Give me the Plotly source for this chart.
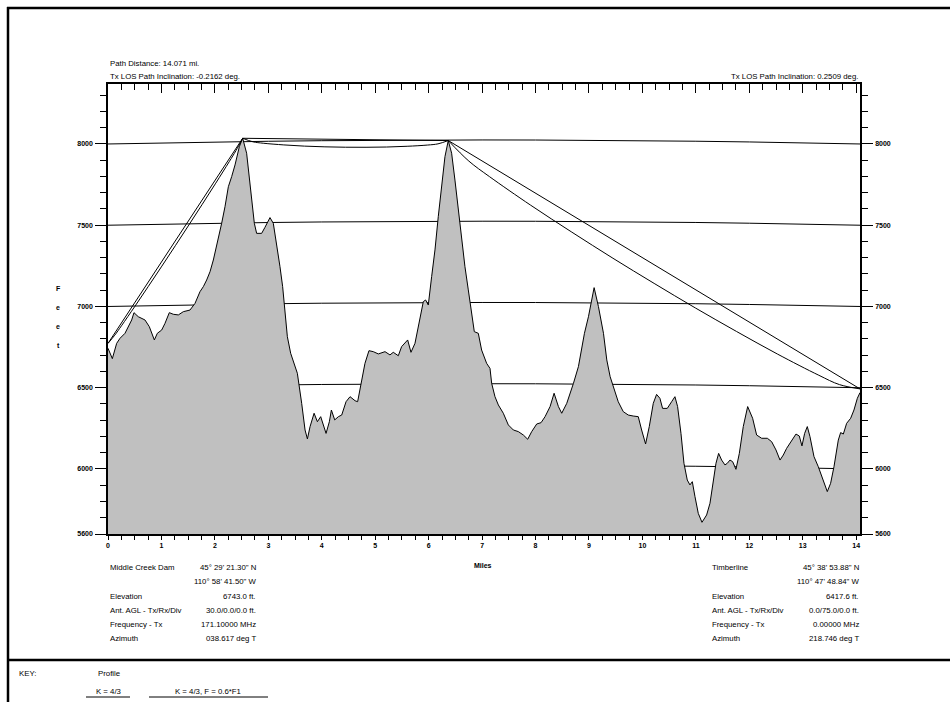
import plotly.graph_objects as go

# ---- path profile data -------------------------------------------------
TERRAIN_MI = [
    0.000, 0.081, 0.162, 0.224, 0.318, 0.380, 0.443, 0.486, 0.567, 0.692,
    0.773, 0.867, 0.923, 1.004, 1.066, 1.147, 1.222, 1.316, 1.409, 1.534,
    1.628, 1.721, 1.784, 1.846, 1.909, 1.971, 2.046, 2.127, 2.189, 2.252,
    2.314, 2.377, 2.458, 2.520, 2.594, 2.669, 2.738, 2.781, 2.875, 2.937,
    3.031, 3.093, 3.156, 3.218, 3.268, 3.312, 3.356, 3.418, 3.499, 3.543,
    3.624, 3.687, 3.731, 3.781, 3.856, 3.918, 3.980, 4.080, 4.142, 4.180,
    4.242, 4.311, 4.373, 4.454, 4.529, 4.623, 4.671, 4.746, 4.808, 4.883,
    4.964, 5.058, 5.183, 5.276, 5.338, 5.432, 5.494, 5.607, 5.669, 5.744,
    5.837, 5.900, 5.943, 5.993, 6.056, 6.118, 6.180, 6.243, 6.305, 6.367,
    6.430, 6.492, 6.555, 6.617, 6.679, 6.742, 6.804, 6.854, 6.929, 6.991,
    7.085, 7.148, 7.179, 7.241, 7.304, 7.397, 7.491, 7.585, 7.678, 7.772,
    7.853, 7.928, 8.022, 8.103, 8.178, 8.272, 8.347, 8.428, 8.490, 8.584,
    8.709, 8.802, 8.915, 8.990, 9.096, 9.177, 9.271, 9.333, 9.396, 9.454,
    9.547, 9.641, 9.735, 9.828, 9.922, 9.985, 10.059, 10.128, 10.203, 10.265,
    10.327, 10.377, 10.465, 10.546, 10.608, 10.658, 10.721, 10.777, 10.839, 10.889,
    10.933, 10.983, 11.045, 11.114, 11.201, 11.264, 11.326, 11.376, 11.426, 11.482,
    11.544, 11.588, 11.638, 11.688, 11.750, 11.813, 11.887, 11.969, 12.062, 12.137,
    12.231, 12.337, 12.418, 12.499, 12.574, 12.636, 12.698, 12.792, 12.873, 12.935,
    12.985, 13.035, 13.085, 13.135, 13.210, 13.291, 13.384, 13.459, 13.521, 13.584,
    13.665, 13.709, 13.759, 13.821, 13.896, 13.958, 14.021, 14.071,
]
TERRAIN_FT = [
    6743, 6679, 6773, 6804, 6835, 6876, 6917, 6962, 6937, 6917,
    6876, 6794, 6835, 6855, 6896, 6962, 6952, 6948, 6968, 6978,
    7019, 7091, 7122, 7163, 7214, 7286, 7389, 7512, 7614, 7737,
    7799, 7871, 7984, 8035, 7943, 7737, 7512, 7450, 7450, 7487,
    7547, 7512, 7389, 7245, 7122, 6958, 6814, 6712, 6630, 6589,
    6404, 6240, 6185, 6261, 6343, 6291, 6322, 6219, 6291, 6363,
    6302, 6322, 6332, 6414, 6445, 6420, 6414, 6548, 6650, 6728,
    6722, 6708, 6722, 6702, 6718, 6697, 6753, 6794, 6718, 6773,
    6917, 7030, 7040, 7009, 7184, 7348, 7553, 7737, 7922, 8021,
    7943, 7778, 7594, 7409, 7245, 7102, 6958, 6845, 6835, 6732,
    6650, 6619, 6527, 6445, 6394, 6343, 6271, 6240, 6230, 6209,
    6183, 6230, 6277, 6285, 6322, 6384, 6466, 6384, 6343, 6404,
    6527, 6630, 6835, 6937, 7116, 6999, 6835, 6671, 6568, 6507,
    6414, 6353, 6332, 6326, 6322, 6240, 6154, 6261, 6404, 6459,
    6435, 6373, 6373, 6414, 6445, 6384, 6219, 6035, 5932, 5902,
    5922, 5830, 5727, 5672, 5717, 5789, 5932, 6035, 6096, 6055,
    6025, 6035, 6055, 6045, 5998, 6096, 6261, 6384, 6312, 6209,
    6189, 6189, 6168, 6117, 6055, 6086, 6127, 6178, 6215, 6203,
    6142, 6219, 6261, 6199, 6076, 6014, 5922, 5861, 5912, 6014,
    6178, 6224, 6215, 6281, 6312, 6363, 6435, 6470,
]

# curved-earth reference levels (K = 4/3) and their bulge along the path
GRID_LEVELS = [6000, 6500, 7000, 7500, 8000]
BULGE_MI = [0, 1, 2, 3, 4, 5, 6, 7, 8, 9, 10, 11, 12, 13, 14.071]
BULGE_FT = [0, 6.5, 12.1, 16.6, 20.1, 22.7, 24.2, 24.7, 24.3, 22.8, 20.4, 16.9, 12.4, 7.0, 0]

# LOS path vertices: Tx, first ridge, second ridge, Rx
LOS_MI = [0.0, 2.520, 6.367, 14.071]
LOS_FT = [6773, 8035, 8021, 6493]

# clearance (F = 0.6*F1) sag below each LOS leg, at fractional positions
LENS_T = [0, 0.05, 0.1, 0.2, 0.3, 0.4, 0.5, 0.6, 0.7, 0.8, 0.9, 0.95, 1]
LENS_SAG_FT = [
    [0, 13, 18, 24, 27.5, 29.4, 30, 29.4, 27.5, 24, 18, 13, 0],
    [0, 21, 29, 38, 44, 47, 48, 47, 44, 38, 29, 21, 0],
    [0, 50, 69, 92, 105, 113, 115, 113, 105, 92, 69, 50, 0],
]

PATH_MILES = 14.071
Y_RANGE = [5600, 8369]
Y_TICKS = [5600, 6000, 6500, 7000, 7500, 8000]

SITE_ROWS = ["Elevation", "Ant. AGL - Tx/Rx/Div", "Frequency - Tx", "Azimuth"]
TX_SITE = ["Middle Creek Dam", "45° 29' 21.30\" N", "110° 58' 41.50\" W",
           "6743.0 ft.", "30.0/0.0/0.0 ft.", "171.10000 MHz", "038.617 deg T"]
RX_SITE = ["Timberline", "45° 38' 53.88\" N", "110° 47' 48.84\" W",
           "6417.6 ft.", "0.0/75.0/0.0 ft.", "0.00000 MHz", "218.746 deg T"]

# ---- page geometry (pixels) --------------------------------------------
W, H = 950, 702
PL, PR, PT, PB = 108, 860, 84, 534

def px(x):
    return (x - PL) / (PR - PL)

def py(y):
    return (PB - y) / (PB - PT)

TEXT_FONT = dict(family="Liberation Sans, Arial, sans-serif", size=7.8, color="black")
BOLD_FONT = dict(family="Liberation Sans, Arial, sans-serif", size=7, color="black", weight="bold")

fig = go.Figure()

# reference elevation lines (drawn first so the terrain hides them)
for lvl in GRID_LEVELS:
    fig.add_trace(go.Scatter(
        x=BULGE_MI, y=[lvl + b for b in BULGE_FT],
        mode="lines", line=dict(color="black", width=1), hoverinfo="skip"))

# terrain profile
fig.add_trace(go.Scatter(
    x=TERRAIN_MI, y=TERRAIN_FT, mode="lines", fill="tozeroy",
    fillcolor="#c0c0c0", line=dict(color="black", width=1), hoverinfo="skip"))

# LOS legs and clearance lens for each leg
for i in range(3):
    x0, x1 = LOS_MI[i], LOS_MI[i + 1]
    y0, y1 = LOS_FT[i], LOS_FT[i + 1]
    fig.add_trace(go.Scatter(x=[x0, x1], y=[y0, y1], mode="lines",
                             line=dict(color="black", width=1), hoverinfo="skip"))
    lx = [x0 + t * (x1 - x0) for t in LENS_T]
    ly = [y0 + t * (y1 - y0) - s for t, s in zip(LENS_T, LENS_SAG_FT[i])]
    fig.add_trace(go.Scatter(x=lx, y=ly, mode="lines", line_shape="spline",
                             line=dict(color="black", width=1), hoverinfo="skip"))

# anchor trace for the mirrored top/right axes
fig.add_trace(go.Scatter(x=[0], y=[Y_RANGE[0]], xaxis="x2", yaxis="y2",
                         mode="markers", marker=dict(opacity=0), hoverinfo="skip"))

axis_common = dict(showgrid=False, zeroline=False, showline=True,
                   linecolor="black", linewidth=1.5, tickcolor="black", tickwidth=1)

fig.update_layout(
    template="none",
    width=W, height=H,
    margin=dict(l=PL, r=W - PR, t=PT, b=H - PB, pad=0),
    paper_bgcolor="white", plot_bgcolor="white", showlegend=False,
    xaxis=dict(range=[0, PATH_MILES], tickmode="linear", tick0=0, dtick=1,
               ticks="outside", ticklen=4, tickfont=BOLD_FONT,
               minor=dict(ticks="outside", ticklen=4, dtick=0.25, tick0=0,
                          tickcolor="black", showgrid=False),
               **axis_common),
    xaxis2=dict(range=[0, PATH_MILES], overlaying="x", side="top", anchor="y",
                tickmode="linear", tick0=0, dtick=1, ticks="inside", ticklen=9,
                showticklabels=False,
                minor=dict(ticks="inside", ticklen=6, dtick=0.25, tick0=0,
                           tickcolor="black", showgrid=False),
                **axis_common),
    yaxis=dict(range=Y_RANGE, tickmode="array", tickvals=Y_TICKS,
               ticks="outside", ticklen=11, tickfont=BOLD_FONT, ticklabelstandoff=1,
               minor=dict(ticks="outside", ticklen=6, dtick=100, tick0=5600,
                          tickcolor="black", showgrid=False),
               **axis_common),
    yaxis2=dict(range=Y_RANGE, overlaying="y", side="right", anchor="x",
                tickmode="array", tickvals=Y_TICKS,
                ticks="outside", ticklen=11, tickfont=BOLD_FONT, ticklabelstandoff=1,
                minor=dict(ticks="outside", ticklen=6, dtick=100, tick0=5600,
                           tickcolor="black", showgrid=False),
                **axis_common),
)

ann = []

def text(x, y, s, anchor="left", font=TEXT_FONT):
    ann.append(dict(x=px(x), y=py(y), xref="paper", yref="paper", text=s,
                    showarrow=False, xanchor=anchor, yanchor="middle", font=font))

text(108, 63, "Path Distance: 14.071 mi.")
text(108, 76, "Tx LOS Path Inclination: -0.2162 deg.")
text(860, 76, "Tx LOS Path Inclination: 0.2509 deg.", anchor="right")

for ch, y in zip("Feet", [288, 307, 326, 345]):
    text(58, y, ch, anchor="center", font=BOLD_FONT)

text(483, 565, "Miles", anchor="center", font=BOLD_FONT)

ROW_Y = [567, 581, 596, 610, 624, 638]
for lab_x, val_x, site in [(108, 258, TX_SITE), (710, 861, RX_SITE)]:
    text(lab_x, ROW_Y[0], site[0])
    for j, lab in enumerate(SITE_ROWS):
        text(lab_x, ROW_Y[j + 2], lab)
    for j, val in enumerate(site[1:]):
        text(val_x, ROW_Y[j], val, anchor="right")

text(17, 673, "KEY:")
text(96, 673, "Profile")
text(108, 691, "K = 4/3", anchor="center")
text(208, 691, "K = 4/3, F = 0.6*F1", anchor="center")

fig.update_layout(annotations=ann)

# page frame, section divider and key swatches
def hline(x0, x1, y, w):
    return dict(type="line", xref="paper", yref="paper", x0=px(x0), x1=px(x1),
                y0=py(y), y1=py(y), line=dict(color="black", width=w))

def vline(x, y0, y1, w):
    return dict(type="line", xref="paper", yref="paper", x0=px(x), x1=px(x),
                y0=py(y0), y1=py(y1), line=dict(color="black", width=w))

fig.update_layout(shapes=[
    vline(8, 7, 705, 2.5),
    hline(7, 955, 8, 2.5),
    hline(7, 955, 660, 2.5),
    hline(86, 130, 697, 1),
    hline(149, 268, 697, 1),
])

fig.write_html("out.html")
